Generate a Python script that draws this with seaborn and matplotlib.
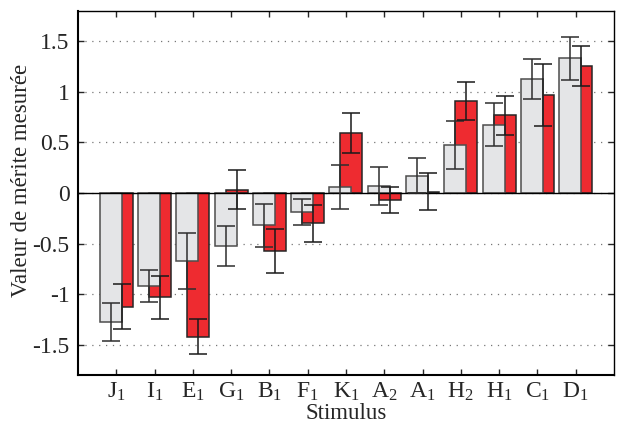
import numpy as np
import pandas as pd
import matplotlib
matplotlib.use("Agg")
import matplotlib.pyplot as plt
import seaborn as sns

# ---- data ----
stimuli = ['J', 'I', 'E', 'G', 'B', 'F', 'K', 'A', 'A', 'H', 'H', 'C', 'D']
subscripts = ['1', '1', '1', '1', '1', '1', '1', '2', '1', '2', '1', '1', '1']
gray_values = [-1.27, -0.92, -0.67, -0.52, -0.32, -0.185, 0.063, 0.071, 0.171, 0.475, 0.676, 1.128, 1.33]
gray_err = [0.187, 0.16, 0.28, 0.197, 0.209, 0.13, 0.216, 0.19, 0.171, 0.235, 0.212, 0.20, 0.214]
red_values = [-1.12, -1.03, -1.418, 0.033, -0.57, -0.30, 0.595, -0.069, 0.011, 0.911, 0.766, 0.967, 1.253]
red_err = [0.218, 0.21, 0.17, 0.19, 0.218, 0.181, 0.198, 0.131, 0.183, 0.19, 0.196, 0.308, 0.196]
ytick_values = [-1.5, -1, -0.5, 0, 0.5, 1, 1.5]
ytick_labels = ['-1.5', '-1', '-0.5', '0', '0.5', '1', '1.5']

# ---- style ----
sns.set_style("ticks")
plt.rcParams['font.family'] = ['Liberation Serif', 'DejaVu Serif']
plt.rcParams['mathtext.fontset'] = 'custom'
plt.rcParams['mathtext.rm'] = 'Liberation Serif'
plt.rcParams['mathtext.it'] = 'Liberation Serif:italic'
plt.rcParams['mathtext.bf'] = 'Liberation Serif:bold'

TICK_FS = 17
LABEL_FS = 16.5
GRAY_FILL = '#e4e5e7'
GRAY_EDGE = '#4d4d4d'
RED_FILL = '#ee2b30'
RED_EDGE = '#262626'
OFFSET = 0.144
WIDTH = 0.574

n = len(stimuli)
idx = np.arange(n)
labels = [r'$\mathrm{%s}_{%s}$' % (s, k) for s, k in zip(stimuli, subscripts)]

df_red = pd.DataFrame({'pos': idx + OFFSET, 'value': red_values})
df_gray = pd.DataFrame({'pos': idx - OFFSET, 'value': gray_values})

fig = plt.figure(figsize=(6.22, 4.30), dpi=100)
ax = fig.add_axes([0.1254, 0.127, 0.8616, 0.848])

ax.yaxis.grid(True, linestyle=(0, (1, 4.5)), color='#777777', linewidth=0.9, zorder=0)
ax.set_axisbelow(True)

sns.barplot(data=df_red, x='pos', y='value', native_scale=True, width=WIDTH,
            color=RED_FILL, saturation=1, edgecolor=RED_EDGE, linewidth=1.1,
            errorbar=None, ax=ax, zorder=2)
sns.barplot(data=df_gray, x='pos', y='value', native_scale=True, width=WIDTH,
            color=GRAY_FILL, saturation=1, edgecolor=GRAY_EDGE, linewidth=1.1,
            errorbar=None, ax=ax, zorder=3)

ax.axhline(0, color='black', linewidth=1.0, zorder=4)

ax.errorbar(df_gray['pos'], df_gray['value'], yerr=gray_err, fmt='none',
            ecolor='#2e2e2e', elinewidth=1.1, capsize=6.5, capthick=1.1, zorder=5)
ax.errorbar(df_red['pos'], df_red['value'], yerr=red_err, fmt='none',
            ecolor='#1a1a1a', elinewidth=1.1, capsize=6.5, capthick=1.1, zorder=5)

ax.set_xlim(-1, n)
ax.set_ylim(-1.8, 1.8)
ax.set_xticks(idx)
ax.set_xticklabels(labels, fontsize=TICK_FS)
ax.set_yticks(ytick_values)
ax.set_yticklabels(ytick_labels, fontsize=TICK_FS)
ax.tick_params(direction='in', top=True, right=True, length=4, width=1)
ax.tick_params(axis='x', pad=4)
ax.tick_params(axis='y', pad=6)

for side in ['left', 'bottom', 'right', 'top']:
    ax.spines[side].set_visible(True)
    ax.spines[side].set_color('black')
ax.spines['left'].set_linewidth(1.5)
ax.spines['bottom'].set_linewidth(1.5)
ax.spines['right'].set_linewidth(1.0)
ax.spines['top'].set_linewidth(1.0)

ax.set_xlabel('Stimulus', fontsize=LABEL_FS, labelpad=0)
ax.set_ylabel('Valeur de mérite mesurée', fontsize=LABEL_FS)
ax.yaxis.set_label_coords(-0.085, 0.536)

fig.savefig('out.png', dpi=100)
